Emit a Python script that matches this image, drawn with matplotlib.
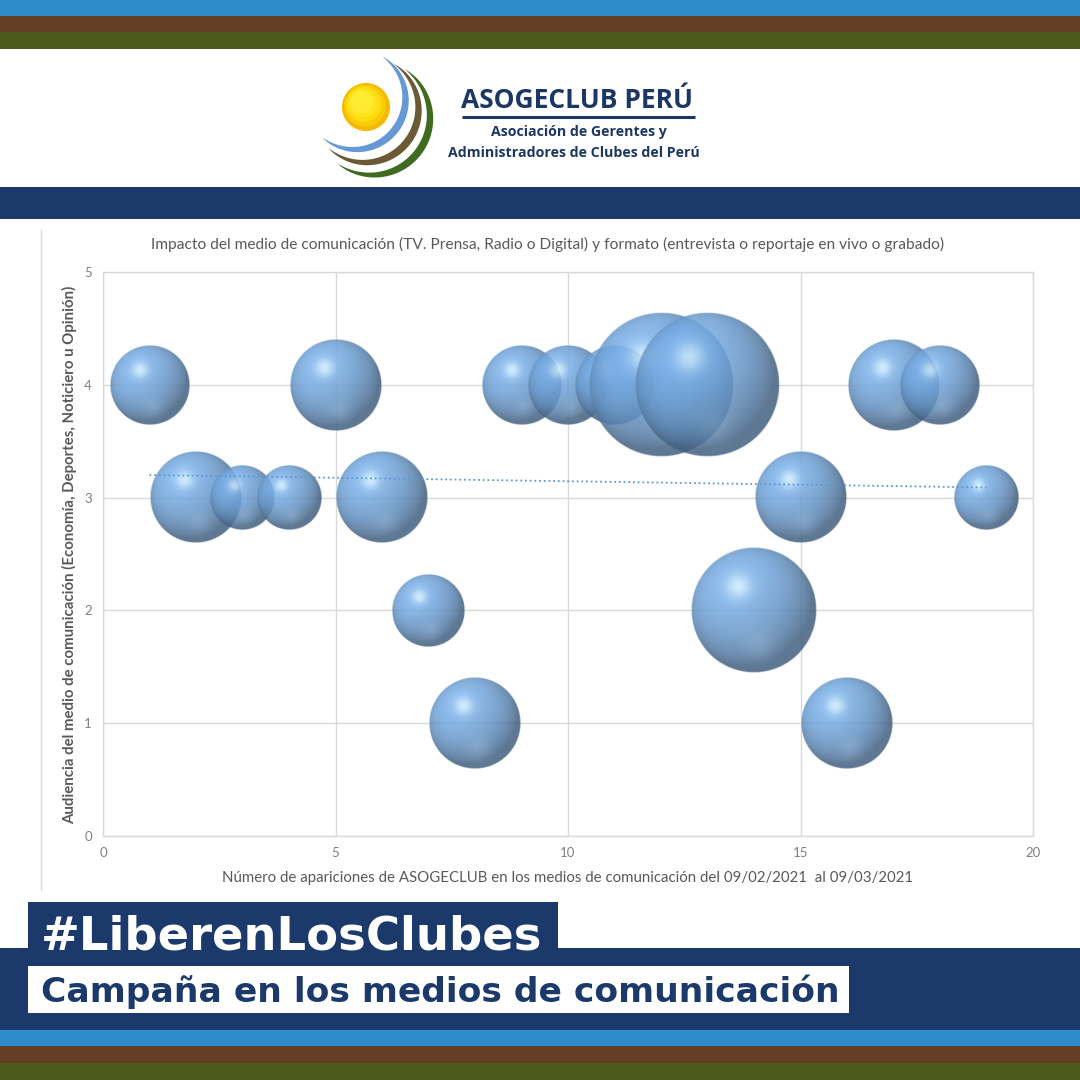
import matplotlib
matplotlib.use("Agg")
import matplotlib.pyplot as plt
from matplotlib.patches import Rectangle, Circle
import numpy as np

# ---- data ----
apariciones = [1, 2, 3, 4, 5, 6, 7, 8, 9, 10, 11, 12, 13, 14, 15, 16, 17, 18, 19]
audiencia = [4, 3, 3, 3, 4, 3, 2, 1, 4, 4, 4, 4, 4, 2, 3, 1, 4, 4, 3]
impacto = [6, 8, 4, 4, 8, 8, 5, 8, 6, 6, 6, 20, 20, 15, 8, 8, 8, 6, 4]
trend_x = [1, 19]
trend_y = [3.20, 3.09]

x_ticks = [0, 5, 10, 15, 20]
y_ticks = [0, 1, 2, 3, 4, 5]

titulo = ("Impacto del medio de comunicación (TV. Prensa, Radio o Digital) y formato "
          "(entrevista o reportaje en vivo o grabado)")
xlabel = "Número de apariciones de ASOGECLUB en los medios de comunicación del 09/02/2021  al 09/03/2021"
ylabel = "Audiencia del medio de comunicación (Economía, Deportes, Noticiero u Opinión)"

# colours
navy = "#1b3a6b"
azul = "#2e8ccb"
marron = "#643f24"
oliva = "#4e5a1b"
gris_txt = "#595959"
chart_font = ["Lato", "DejaVu Sans"]

fig = plt.figure(figsize=(10.8, 10.8), dpi=100)
fig.patch.set_facecolor("white")

# background layer in pixel coordinates (y down)
bg = fig.add_axes([0, 0, 1, 1])
bg.set_xlim(0, 1080)
bg.set_ylim(1080, 0)
bg.axis("off")

# stripes top / bottom
for y0, col in [(0, azul), (16, marron), (32, oliva)]:
    bg.add_patch(Rectangle((0, y0), 1080, 16.5, color=col, lw=0))
for y0, col in [(1030, azul), (1046, marron), (1063, oliva)]:
    bg.add_patch(Rectangle((0, y0), 1080, 17.5, color=col, lw=0))
bg.add_patch(Rectangle((0, 187), 1080, 32, color=navy, lw=0))
bg.add_patch(Rectangle((0, 948), 1080, 82, color=navy, lw=0))

# logo: sun + swooshes
sun_cols = ["#f4b900", "#f9cc05", "#fcdc12", "#fee41e", "#ffec32"]
for k, col in enumerate(sun_cols):
    rr = 24 - k * 3.2
    bg.add_patch(Circle((366 - k * 1.1, 107 - k * 1.3), rr, color=col, lw=0))


def swoosh(cx, cy, r, a0, a1, tmax, color):
    th = np.radians(np.linspace(a0, a1, 200))
    t = tmax * np.sin(np.linspace(0, np.pi, 200)) ** 0.8
    xo = cx + (r + t / 2) * np.cos(th)
    yo = cy - (r + t / 2) * np.sin(th)
    xi = cx + (r - t / 2) * np.cos(th)
    yi = cy - (r - t / 2) * np.sin(th)
    bg.fill(np.r_[xo, xi[::-1]], np.r_[yo, yi[::-1]], color=color, lw=0)


swoosh(355, 99, 50.5, 57, -130, 7.5, "#6598d4")
swoosh(365, 109, 53.5, 57, -133, 7.5, "#6b5a34")
swoosh(372, 117, 58, 55, -126, 7.5, "#3e6b1f")

bg.text(461, 108, "ASOGECLUB PERÚ", fontsize=19, fontweight="bold", color="#1c3764",
        family=["Open Sans", "DejaVu Sans"], ha="left", va="baseline")
bg.plot([462, 695], [117, 117], color="#1c3764", lw=2.2, solid_capstyle="butt")
bg.text(579, 132, "Asociación de Gerentes y", fontsize=10.2, fontweight="bold", color="#1c3764",
        family=["Open Sans", "DejaVu Sans"], ha="center", va="center")
bg.text(574, 153, "Administradores de Clubes del Perú", fontsize=10.2, fontweight="bold",
        color="#1c3764", family=["Open Sans", "DejaVu Sans"], ha="center", va="center")

# thin border of the pasted chart
bg.plot([41, 41], [230, 890], color="#d9d9d9", lw=1)

# chart titles
bg.text(548, 244, titulo, fontsize=11.2, color=gris_txt, family=chart_font,
        ha="center", va="center")
bg.text(568, 878, xlabel, fontsize=10.8, color=gris_txt, family=chart_font,
        ha="center", va="center")
bg.text(70, 555, ylabel, fontsize=10.8, fontweight="bold", color=gris_txt, family=chart_font,
        rotation=90, ha="center", va="center")

# bottom captions
bg.add_patch(Rectangle((28, 902), 530, 47, color=navy, lw=0))
bg.text(41, 949, "#LiberenLosClubes", fontsize=33.5, fontweight="bold", color="white",
        family="DejaVu Sans", ha="left", va="baseline")
bg.add_patch(Rectangle((28, 966), 821, 47, color="white", lw=0))
bg.text(41, 1002, "Campaña en los medios de comunicación", fontsize=24.8, fontweight="bold",
        color=navy, family="DejaVu Sans", ha="left", va="baseline")

# ---- bubble chart ----
L, R, B, T = 103, 1033, 836, 272
ax = fig.add_axes([L / 1080, 1 - B / 1080, (R - L) / 1080, (B - T) / 1080])
px_x = (R - L) / 20.0
px_y = (B - T) / 5.0


def sphere(n=220):
    v, u = np.mgrid[-1:1:n * 1j, -1:1:n * 1j]
    r = np.sqrt(u ** 2 + v ** 2)
    z = np.sqrt(np.clip(1 - r ** 2, 0, 1))
    Ld = np.array([-0.35, 0.45, 0.82])
    Ld = Ld / np.linalg.norm(Ld)
    diff = np.clip(u * Ld[0] + v * Ld[1] + z * Ld[2], 0, 1)
    base = np.array([0.47, 0.68, 0.90])
    inten = 0.56 + 0.47 * diff
    rgb = np.clip(base * inten[..., None], 0, 1)
    hl = 0.85 * np.exp(-((u + 0.25) ** 2 + (v - 0.38) ** 2) / 0.04)
    rgb = rgb * (1 - hl[..., None]) + np.array([0.84, 0.95, 1.0]) * hl[..., None]
    glow = 0.2 * np.exp(-((u - 0.08) ** 2 + (v + 0.55) ** 2) / 0.06)
    rgb = rgb * (1 - glow[..., None]) + np.array([0.70, 0.83, 0.95]) * glow[..., None]
    a = 0.86 * np.clip((1 - r) * n / 3.0, 0, 1)
    return np.dstack([rgb, a])


img = sphere()
dmax = 145.0
smax = max(impacto)
for xv, yv, s in zip(apariciones, audiencia, impacto):
    d = dmax * np.sqrt(s / smax)
    hw = d / 2 / px_x
    hh = d / 2 / px_y
    ax.imshow(img, extent=[xv - hw, xv + hw, yv - hh, yv + hh], origin="lower",
              aspect="auto", interpolation="bilinear", zorder=3)

ax.plot(trend_x, trend_y, color="#5b9bd5", lw=1.3, linestyle=(0, (1, 1.6)), zorder=4)

ax.set_xlim(0, 20)
ax.set_ylim(0, 5)
ax.set_xticks(x_ticks)
ax.set_yticks(y_ticks)
ax.grid(color="#d9d9d9", lw=1, zorder=0)
ax.set_axisbelow(True)
for sp in ax.spines.values():
    sp.set_color("#d9d9d9")
    sp.set_linewidth(1)
ax.tick_params(length=0, colors="#808080", labelsize=9.5, pad=8)
for lab in ax.get_xticklabels() + ax.get_yticklabels():
    lab.set_family(chart_font)

fig.savefig("out.png", dpi=100, facecolor="white")
